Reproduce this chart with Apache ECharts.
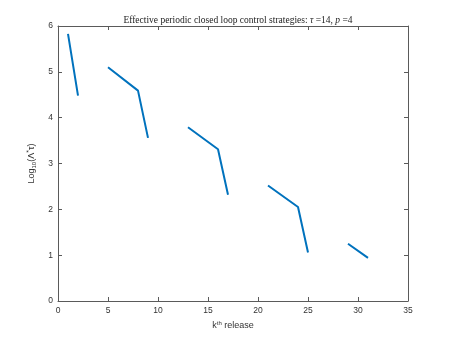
<!DOCTYPE html>
<html>
<head>
<meta charset="utf-8">
<script src="https://cdn.jsdelivr.net/npm/echarts@6/dist/echarts.min.js"></script>
<style>
  html, body { margin: 0; padding: 0; background: #fff; }
  #chart { width: 450px; height: 338px; }
</style>
</head>
<body>
<div id="chart"></div>
<script>
// k-th release (null = gap between segments)
var releases = [1, 2, null, 5, 8, 9, null, 13, 16, 17, null, 21, 24, 25, null, 29, 31]
var logValues = [5.83, 4.48, null, 5.10, 4.59, 3.56, null, 3.79, 3.31, 2.32, null, 2.52, 2.05, 1.06, null, 1.25, 0.94]
var xTicks = [0, 35, 5]
var yTicks = [0, 6, 1]

var lineData = []
for (var i = 0; i < releases.length; i++) {
  if (releases[i] === null) {
    lineData.push('-')
  } else {
    lineData.push([releases[i], logValues[i]])
  }
}

var axisColor = '#5a5a5a'
var labelColor = '#333'

function boxAxis (range, pos, showLabel) {
  return {
    type: 'value',
    position: pos,
    min: range[0],
    max: range[1],
    interval: range[2],
    axisLine: { show: true, onZero: false, lineStyle: { color: axisColor, width: 1 } },
    axisTick: { show: true, inside: true, length: 4, lineStyle: { color: axisColor } },
    axisLabel: { show: showLabel, color: labelColor, fontSize: 8.5, fontFamily: 'Liberation Sans', margin: 5 },
    splitLine: { show: false }
  }
}

var myChart = echarts.init(document.getElementById('chart'))
var option = {
  animation: false,
  title: {
    text: 'Effective periodic closed loop control strategies: {i|τ} =14, {i|p} =4',
    left: 233,
    textAlign: 'center',
    top: 10,
    textStyle: {
      fontFamily: 'Liberation Serif',
      fontWeight: 'normal',
      fontSize: 9.5,
      color: '#222',
      rich: {
        i: { fontFamily: 'Liberation Serif', fontStyle: 'italic', fontSize: 9.5, color: '#222' }
      }
    }
  },
  grid: { left: 58, right: 42, top: 26, bottom: 37 },
  xAxis: [
    Object.assign(boxAxis(xTicks, 'bottom', true), {
      name: '{a|k}{s|th}{a| release}',
      nameLocation: 'middle',
      nameGap: 19,
      nameTextStyle: {
        rich: {
          a: { fontSize: 9, color: '#333', fontFamily: 'Liberation Sans' },
          s: { fontSize: 6, color: '#333', fontFamily: 'Liberation Sans', verticalAlign: 'top', padding: [0, 0, 6, 0] }
        }
      }
    }),
    boxAxis(xTicks, 'top', false)
  ],
  yAxis: [
    Object.assign(boxAxis(yTicks, 'left', true), {
      name: '{a|Log}{s|10}{a|(Λ}{p|*}{a|τ)}',
      nameLocation: 'middle',
      nameGap: 17,
      nameTextStyle: {
        rich: {
          a: { fontSize: 9, color: '#333', fontFamily: 'Liberation Sans' },
          s: { fontSize: 6, color: '#333', fontFamily: 'Liberation Sans', padding: [6, 0, 0, 0] },
          p: { fontSize: 7, color: '#333', fontFamily: 'Liberation Sans', padding: [0, 0, 4, 0] }
        }
      }
    }),
    boxAxis(yTicks, 'right', false)
  ],
  series: [
    {
      type: 'line',
      data: lineData,
      xAxisIndex: 0,
      yAxisIndex: 0,
      showSymbol: false,
      connectNulls: false,
      lineStyle: { color: '#0072BD', width: 2 }
    }
  ]
}
myChart.setOption(option)
</script>
</body>
</html>
